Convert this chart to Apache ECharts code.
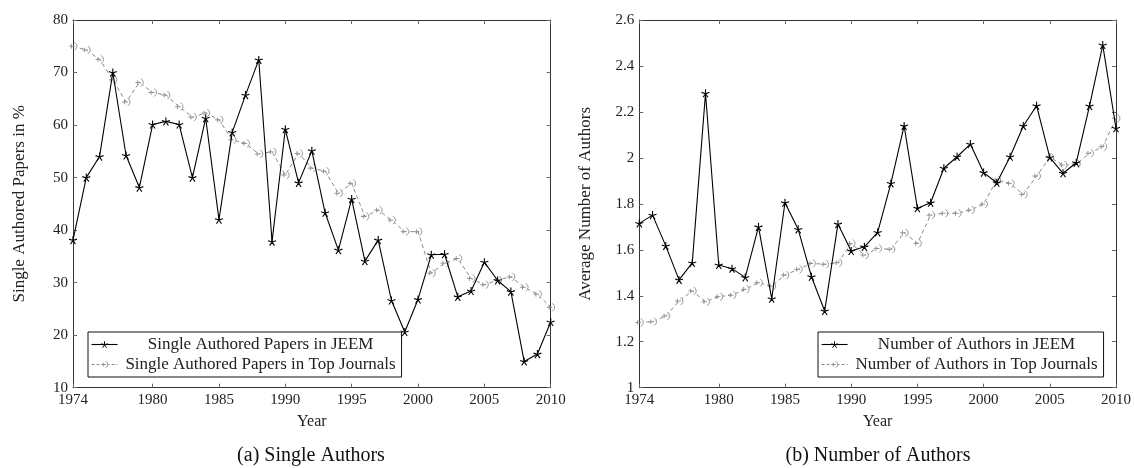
<!DOCTYPE html>
<html><head><meta charset="utf-8">
<script src="https://cdn.jsdelivr.net/npm/echarts@6/dist/echarts.min.js"></script>
<style>html,body{margin:0;padding:0;background:#fff}#c{width:1134px;height:468px}</style>
</head><body><div id="c"></div>
<script>
const years = [1974,1975,1976,1977,1978,1979,1980,1981,1982,1983,1984,1985,1986,1987,1988,1989,1990,1991,1992,1993,1994,1995,1996,1997,1998,1999,2000,2001,2002,2003,2004,2005,2006,2007,2008,2009,2010];
const xTickValues = [1974,1980,1985,1990,1995,2000,2005,2010];
const jeemSingle = [38.1,50.0,54.0,70.0,54.2,48.1,60.1,60.7,60.1,50.0,61.3,42.0,58.6,65.7,72.4,37.8,59.2,49.0,55.1,43.3,36.2,45.9,34.1,38.1,26.6,20.6,26.8,35.3,35.4,27.3,28.4,33.9,30.4,28.3,15.0,16.4,22.5];
const topSingle = [75.0,74.3,72.5,68.6,64.4,68.1,66.2,65.7,63.5,61.5,62.3,61.0,57.2,56.5,54.5,54.9,50.5,54.6,51.8,51.2,47.0,48.9,42.6,43.8,41.9,39.7,39.7,31.8,33.7,34.6,30.8,29.6,30.5,31.1,29.1,27.8,25.3];
const jeemAuthors = [1.715,1.751,1.617,1.469,1.543,2.281,1.534,1.518,1.480,1.700,1.387,1.805,1.689,1.483,1.334,1.712,1.595,1.613,1.676,1.889,2.139,1.781,1.805,1.955,2.005,2.060,1.936,1.892,2.005,2.139,2.227,2.002,1.933,1.979,2.226,2.491,2.129];
const topAuthors = [1.284,1.287,1.312,1.377,1.421,1.374,1.396,1.403,1.428,1.457,1.442,1.490,1.515,1.541,1.537,1.544,1.628,1.577,1.606,1.602,1.674,1.628,1.751,1.759,1.759,1.773,1.799,1.904,1.889,1.841,1.921,2.002,1.969,1.973,2.020,2.049,2.172];
const names = {
  a1: 'Single Authored Papers in JEEM',
  a2: 'Single Authored Papers in Top Journals',
  b1: 'Number of Authors in JEEM',
  b2: 'Number of Authors in Top Journals'
};
const captions = ['(a) Single Authors', '(b) Number of Authors'];

const FONT = 'Liberation Serif';
const AX = '#333';
const starPath = 'path://M0,-10L0,0M9.5,-3.1L0,0M5.9,8.1L0,0M-5.9,8.1L0,0M-9.5,-3.1L0,0';
const grayPath = 'path://M-6,0L1,0M-3,-3.5L-3,3.5M1,-6Q7,0 1,6';

function xAxes(g) {
  const common = {
    type: 'value', gridIndex: g, min: 1974, max: 2010,
    axisLine: {show: true, onZero: false, lineStyle: {color: AX, width: 1}},
    splitLine: {show: false}
  };
  return [
    Object.assign({}, common, {
      position: 'bottom',
      axisTick: {show: true, inside: true, length: 4, customValues: xTickValues, lineStyle: {color: '#666'}},
      axisLabel: {customValues: xTickValues, formatter: v => String(v), color: '#222', fontFamily: FONT, fontSize: 15, margin: 5},
      name: 'Year', nameLocation: 'middle', nameGap: 26,
      nameTextStyle: {fontFamily: FONT, fontSize: 16, color: '#222'}
    }),
    Object.assign({}, common, {
      position: 'top',
      axisTick: {show: true, inside: true, length: 4, customValues: xTickValues, lineStyle: {color: '#666'}},
      axisLabel: {show: false}
    })
  ];
}
function yAxes(g, min, max, interval, name, fmt) {
  const common = {
    type: 'value', gridIndex: g, min: min, max: max, interval: interval,
    axisLine: {show: true, onZero: false, lineStyle: {color: AX, width: 1}},
    axisTick: {show: true, inside: true, length: 4, lineStyle: {color: '#666'}},
    splitLine: {show: false}
  };
  return [
    Object.assign({}, common, {
      position: 'left',
      axisLabel: {formatter: fmt, color: '#222', fontFamily: FONT, fontSize: 15, margin: 5},
      name: name, nameLocation: 'middle', nameGap: 45, nameRotate: 90,
      nameTextStyle: {fontFamily: FONT, fontSize: 17, color: '#222'}
    }),
    Object.assign({}, common, {position: 'right', axisLabel: {show: false}})
  ];
}
function pairs(arr) { return years.map((y, i) => [y, arr[i]]); }
function blackSeries(name, arr, xi, yi) {
  return {
    type: 'line', name: name, xAxisIndex: xi, yAxisIndex: yi, data: pairs(arr),
    symbol: starPath, symbolSize: 8, showSymbol: true,
    color: '#000',
    lineStyle: {color: '#000', width: 1.1},
    itemStyle: {color: '#000', borderColor: '#000', borderWidth: 1.1},
    animation: false, z: 3
  };
}
function graySeries(name, arr, xi, yi) {
  return {
    type: 'line', name: name, xAxisIndex: xi, yAxisIndex: yi, data: pairs(arr),
    symbol: grayPath, symbolSize: [8, 8], showSymbol: true,
    color: '#8a8a8a',
    lineStyle: {color: '#8a8a8a', width: 1, type: [4, 3]},
    itemStyle: {color: '#fff', borderColor: '#8a8a8a', borderWidth: 0.9},
    animation: false, z: 2
  };
}
function legend(left, top, data, w) {
  return {
    data: [
      {name: data[0], lineStyle: {width: 1.1, color: '#000'}, itemStyle: {color: '#000', borderColor: '#000', borderWidth: 1}},
      {name: data[1], lineStyle: {width: 1, color: '#8a8a8a', type: [3, 2]}, itemStyle: {color: '#fff', borderColor: '#8a8a8a', borderWidth: 0.9}}
    ],
    orient: 'vertical', left: left, top: top,
    itemWidth: 26, itemHeight: 8, itemGap: 3, padding: [4, 3, 4, 3],
    borderColor: '#111', borderWidth: 1, backgroundColor: '#fff',
    selectedMode: false,
    formatter: n => '{c|' + n + '}',
    textStyle: {fontFamily: FONT, fontSize: 17, color: '#222',
      rich: {c: {width: w, align: 'center', fontFamily: FONT, fontSize: 17, lineHeight: 19, color: '#222'}}}
  };
}

const chart = echarts.init(document.getElementById('c'), null, {renderer: 'canvas'});
chart.setOption({
  backgroundColor: '#fff',
  animation: false,
  grid: [
    {left: 73, right: 583.3, top: 20, bottom: 80.3},
    {left: 639.3, right: 16.7, top: 20, bottom: 80.3}
  ],
  xAxis: xAxes(0).concat(xAxes(1)),
  yAxis: yAxes(0, 10, 80, 10, 'Single Authored Papers in %', v => String(v))
    .concat(yAxes(1, 1, 2.6, 0.2, 'Average Number of Authors', v => String(+v.toFixed(1)))),
  legend: [
    legend(88, 332, [names.a1, names.a2], 276),
    legend(818, 332, [names.b1, names.b2], 248)
  ],
  series: [
    graySeries(names.a2, topSingle, 0, 0),
    blackSeries(names.a1, jeemSingle, 0, 0),
    graySeries(names.b2, topAuthors, 2, 2),
    blackSeries(names.b1, jeemAuthors, 2, 2)
  ],
  graphic: [
    {type: 'text', x: 311, y: 456, style: {text: captions[0], font: '20px "Liberation Serif"', fill: '#111', textAlign: 'center', textVerticalAlign: 'middle'}},
    {type: 'text', x: 878, y: 456, style: {text: captions[1], font: '20px "Liberation Serif"', fill: '#111', textAlign: 'center', textVerticalAlign: 'middle'}}
  ]
});
</script>
</body></html>
